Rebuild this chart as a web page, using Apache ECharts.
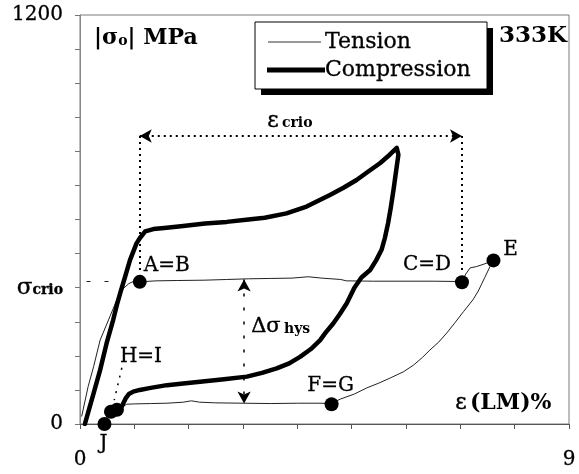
<!DOCTYPE html>
<html>
<head>
<meta charset="utf-8">
<script src="https://cdn.jsdelivr.net/npm/echarts@6/dist/echarts.min.js"></script>
<style>
  html, body { margin: 0; padding: 0; background: #fff; }
  #chart { width: 579px; height: 474px; }
</style>
</head>
<body>
<div id="chart"></div>
<script>
// Stress–strain hysteresis at 333K: tension (thin) and compression (thick) loops.
// Strain in %, absolute stress in MPa.

const tensionStrain = [
  0.03, 0.15, 0.25, 0.37, 0.55, 0.70, 0.80, 0.90, 0.98, 1.10,
  1.40, 1.80, 2.30, 2.70, 3.10, 3.50, 3.90, 4.20, 4.45, 4.80, 4.90, 5.40, 6.00, 6.50, 7.03,
  7.10, 7.18, 7.30, 7.45, 7.61,
  7.55, 7.45, 7.33, 7.23, 7.06, 6.90, 6.75, 6.60, 6.44, 6.30, 6.14, 5.95, 5.71, 5.50, 5.28, 5.05, 4.79, 4.63,
  4.40, 4.00, 3.50, 3.00, 2.50, 2.20, 2.05, 1.90, 1.60, 1.30, 1.00, 0.86,
  0.78, 0.68, 0.57, 0.50, 0.45
];
const tensionStress = [
  22, 110, 168, 246, 315, 373, 398, 412, 418, 417,
  420, 421, 422, 424, 426, 427, 428, 432, 428, 424, 420, 419, 419, 419, 418,
  440, 458, 462, 470, 480,
  463, 430, 390, 364, 330, 297, 267, 240, 217, 195, 173, 153, 135, 120, 106, 88, 73, 60,
  61, 61, 60, 61, 62, 64, 68, 64, 61, 60, 59, 58,
  50, 42, 36, 20, 0
];

const compressionStrain = [
  0.09, 0.17, 0.25, 0.37, 0.49, 0.61, 0.68, 0.74, 0.83, 0.92, 1.04, 1.10, 1.20, 1.35,
  1.55, 1.90, 2.30, 2.70, 3.10, 3.40, 3.80, 4.17, 4.60, 4.85, 5.09, 5.30, 5.52, 5.70, 5.83,
  5.86, 5.82, 5.77, 5.72, 5.67, 5.61, 5.55, 5.45, 5.34, 5.18, 5.05, 4.91, 4.78, 4.66,
  4.52, 4.42, 4.25, 4.05, 3.85, 3.62, 3.35, 3.07, 2.65, 2.21, 1.90, 1.60, 1.30, 1.10,
  0.98, 0.90, 0.84, 0.78, 0.72, 0.66
];
const compressionStress = [
  0, 45, 90, 158, 237, 305, 350, 384, 432, 481, 530, 545, 565, 572,
  575, 581, 588, 593, 600, 605, 618, 638, 672, 693, 716, 740, 765, 790, 810,
  790, 745, 687, 635, 589, 545, 511, 480, 452, 430, 400, 354, 322, 295,
  268, 246, 220, 197, 178, 163, 150, 139, 131, 124, 119, 114, 106, 100,
  95, 88, 75, 55, 40, 30
];

// Marked states along the tension cycle
const pointNames  = ['A=B', 'C=D', 'E', 'F=G', 'H=I', '', 'J'];
const pointStrain = [1.10, 7.03, 7.61, 4.63, 0.57, 0.68, 0.45];
const pointStress = [417, 416, 480, 58, 36, 42, 0];

// Axis tick labels
const xTickLabels = { 0: '0', 9: '9' };
const yTickLabels = { 0: '0', 400: '{s|σ}{c|crio}', 1200: '1200' };

// Annotation levels (MPa / %)
const crioLevel = 845;
const upperPlateau = 418;
const lowerPlateau = 60;
const hysStrain = 3.02;

const zip = (xs, ys) => xs.map((x, i) => [x, ys[i]]);

const serif = 'DejaVu Serif';
const ink = '#000';
const labelOffsets = {
  'A=B': [27, -16], 'C=D': [-35, -17], 'E': [17, -11],
  'F=G': [-1, -18], 'H=I': [30, -55], 'J': [-1, 20]
};

const chart = echarts.init(document.getElementById('chart'), null, { renderer: 'canvas' });

const dotted = (w, pat) => ({ color: '#000', width: w, type: pat });

// Boxed key drawn with its drop shadow
const keyLeft = 255, keyTop = 22, keyW = 232, keyH = 67;
const keyGraphics = [
  { type: 'rect', z: 20, shape: { x: keyLeft + 6, y: keyTop + 6, width: keyW, height: keyH }, style: { fill: '#000' } },
  { type: 'rect', z: 21, shape: { x: keyLeft, y: keyTop, width: keyW, height: keyH }, style: { fill: '#fff', stroke: '#000', lineWidth: 1 } },
  { type: 'line', z: 22, shape: { x1: 268, y1: 42, x2: 321, y2: 42 }, style: { stroke: '#333', lineWidth: 1 } },
  { type: 'line', z: 22, shape: { x1: 267, y1: 70, x2: 325, y2: 70 }, style: { stroke: '#000', lineWidth: 5 } },
  { type: 'text', z: 22, x: 325, y: 42, style: { text: 'Tension', font: '22px "DejaVu Serif"', fill: ink, verticalAlign: 'middle', stroke: ink, lineWidth: 0.3 } },
  { type: 'text', z: 22, x: 325, y: 70, style: { text: 'Compression', font: '22px "DejaVu Serif"', fill: ink, verticalAlign: 'middle', stroke: ink, lineWidth: 0.3 } }
];

chart.setOption({
  animation: false,
  backgroundColor: '#fff',
  grid: {
    left: 80, right: 10, top: 15, bottom: 50,
    show: true, borderColor: '#7a7a7a', borderWidth: 1
  },
  xAxis: {
    type: 'value', min: 0, max: 9, interval: 1,
    axisLine: { show: true, lineStyle: { color: '#555', width: 1 } },
    axisTick: { show: true, inside: false, length: 5, lineStyle: { color: '#555' } },
    splitLine: { show: false },
    axisLabel: {
      margin: 26, fontFamily: serif, fontSize: 20, color: ink,
      textBorderColor: ink, textBorderWidth: 0.3,
      formatter: v => xTickLabels[v] || ''
    }
  },
  yAxis: {
    type: 'value', min: 0, max: 1200, interval: 100,
    axisLine: { show: true, lineStyle: { color: '#888', width: 1 } },
    axisTick: { show: true, inside: false, length: 5, lineStyle: { color: '#777' } },
    splitLine: { show: false },
    axisLabel: {
      margin: 17, fontFamily: serif, fontSize: 20, color: ink,
      textBorderColor: ink, textBorderWidth: 0.3,
      formatter: v => yTickLabels[v] || '',
      rich: {
        s: { fontFamily: serif, fontSize: 23, color: ink, textBorderColor: ink, textBorderWidth: 0.4 },
        c: { fontFamily: serif, fontSize: 14, fontWeight: 'bold', color: ink, padding: [6, 0, 0, 0] }
      }
    }
  },
  series: [
    {
      name: 'Tension', type: 'line', data: zip(tensionStrain, tensionStress),
      showSymbol: false, symbol: 'none', smooth: false,
      lineStyle: { color: '#222', width: 1 }, itemStyle: { color: '#222' }, z: 3
    },
    {
      name: 'Compression', type: 'line', data: zip(compressionStrain, compressionStress),
      showSymbol: false, symbol: 'none', smooth: false,
      lineStyle: { color: '#000', width: 4.5, join: 'round', cap: 'round' }, itemStyle: { color: '#000' }, z: 4
    },
    {
      name: 'states', type: 'scatter', z: 5,
      symbol: 'circle', symbolSize: 14,
      itemStyle: { color: '#000', opacity: 1 },
      data: pointNames.map((n, i) => ({
        name: n, value: [pointStrain[i], pointStress[i]],
        label: {
          show: n !== '', formatter: '{b}', position: 'inside',
          offset: labelOffsets[n] || [0, 0],
          fontFamily: serif, fontSize: 20, color: ink,
          textBorderColor: ink, textBorderWidth: 0.3
        }
      })),
      markLine: {
        silent: true, animation: false,
        label: { show: false },
        symbol: ['none', 'none'],
        data: [
          // ε crio span with arrowheads
          [{ coord: [pointStrain[0], crioLevel], symbol: 'arrow', symbolSize: [10, 12], lineStyle: dotted(2, [2, 4]) },
           { coord: [pointStrain[1], crioLevel], symbol: 'arrow', symbolSize: [10, 12] }],
          [{ coord: [pointStrain[0], crioLevel], lineStyle: dotted(2, [2, 4]) },
           { coord: [pointStrain[0], 445] }],
          [{ coord: [pointStrain[1], crioLevel], lineStyle: dotted(2, [2, 4]) },
           { coord: [pointStrain[1], 443] }],
          // Δσ hys between the two tension plateaus
          [{ coord: [hysStrain, upperPlateau + 6], symbol: 'arrow', symbolSize: [10, 12], lineStyle: dotted(1.5, [3, 11]) },
           { coord: [hysStrain, lowerPlateau], symbol: 'arrow', symbolSize: [10, 12] }],
          // leader to H=I
          [{ coord: [0.77, 165], lineStyle: dotted(1.5, [2, 6]) }, { coord: [0.63, 70] }],
          // σ crio level mark
          [{ coord: [0.12, upperPlateau], lineStyle: { color: '#222', width: 1, type: [4, 14] } },
           { coord: [0.75, upperPlateau] }]
        ]
      }
    }
  ],
  graphic: keyGraphics.concat([
    {
      type: 'text', left: 94, top: 27, z: 10,
      style: {
        text: '{b||σ}{o|o}{b|| MPa}',
        rich: {
          b: { fontFamily: serif, fontSize: 22, fontWeight: 'bold', fill: ink },
          o: { fontFamily: serif, fontSize: 14, fontWeight: 'bold', fill: ink, padding: [7, 0, 0, 0] }
        }
      }
    },
    {
      type: 'text', right: 12, top: 25, z: 10,
      style: { text: '333K', font: 'bold 23px "DejaVu Serif"', fill: ink }
    },
    {
      type: 'text', left: 267, top: 110, z: 10,
      style: {
        text: '{e|ε} {c|crio}',
        rich: {
          e: { fontFamily: serif, fontSize: 22, fill: ink, stroke: ink, lineWidth: 0.4 },
          c: { fontFamily: serif, fontSize: 14, fontWeight: 'bold', fill: ink, padding: [4, 0, 0, 0] }
        }
      }
    },
    {
      type: 'text', left: 251, top: 316, z: 10,
      style: {
        text: '{d|Δσ} {c|hys}',
        rich: {
          d: { fontFamily: serif, fontSize: 21, fill: ink, stroke: ink, lineWidth: 0.4 },
          c: { fontFamily: serif, fontSize: 14, fontWeight: 'bold', fill: ink, padding: [5, 0, 0, 0] }
        }
      }
    },
    {
      type: 'text', left: 455, top: 392, z: 10,
      style: {
        text: '{e|ε} {b|(LM)%}',
        rich: {
          e: { fontFamily: serif, fontSize: 22, fill: ink, stroke: ink, lineWidth: 0.4 },
          b: { fontFamily: serif, fontSize: 22, fontWeight: 'bold', fill: ink }
        }
      }
    }
  ])
});
</script>
</body>
</html>
